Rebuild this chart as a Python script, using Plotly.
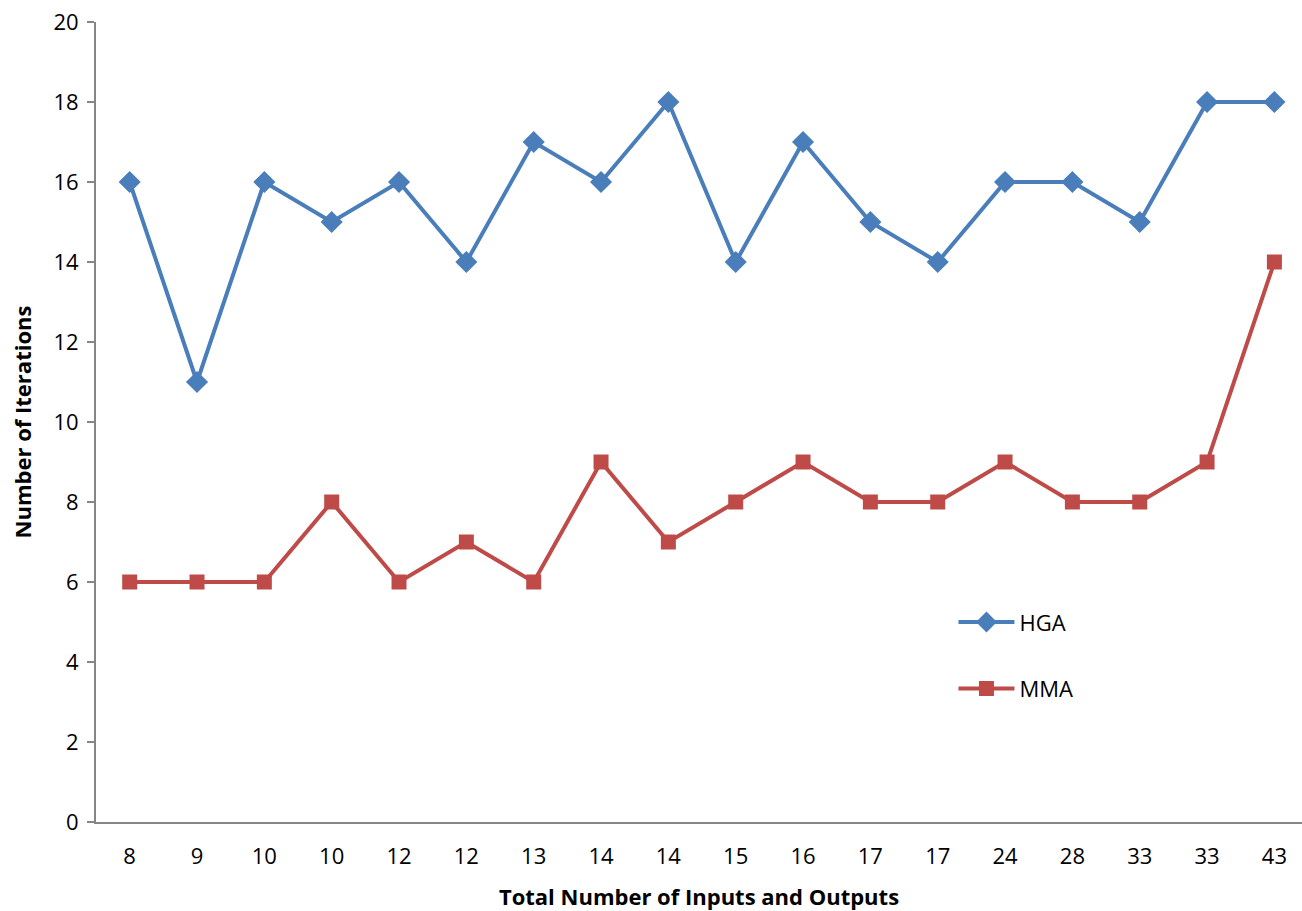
import plotly.graph_objects as go

# Total number of inputs and outputs per test case (category labels, duplicates allowed)
case_labels = ["8", "9", "10", "10", "12", "12", "13", "14", "14", "15",
               "16", "17", "17", "24", "28", "33", "33", "43"]
hga_iterations = [16, 11, 16, 15, 16, 14, 17, 16, 18, 14, 17, 15, 14, 16, 16, 15, 18, 18]
mma_iterations = [6, 6, 6, 8, 6, 7, 6, 9, 7, 8, 9, 8, 8, 9, 8, 8, 9, 14]
y_ticks = [0, 2, 4, 6, 8, 10, 12, 14, 16, 18, 20]

positions = list(range(len(case_labels)))

fig = go.Figure()
fig.add_trace(go.Scatter(
    x=positions, y=hga_iterations, name="HGA", mode="lines+markers",
    line=dict(color="#4A7EBB", width=4),
    marker=dict(symbol="diamond", size=17, color="#4A7EBB"),
    legendgroup="hga",
))
fig.add_trace(go.Scatter(
    x=positions, y=mma_iterations, name="MMA", mode="lines+markers",
    line=dict(color="#BE4B48", width=4),
    marker=dict(symbol="square", size=15, color="#BE4B48"),
    legendgroup="mma",
))

font_family = "Open Sans, Liberation Sans, sans-serif"
axis_font = dict(family=font_family, size=22, color="#000000")
title_font = dict(family=font_family, size=22, color="#000000")

fig.update_layout(
    width=1302, height=911,
    margin=dict(l=96, r=0, t=22, b=89),
    plot_bgcolor="white", paper_bgcolor="white",
    showlegend=True,
    legend=dict(
        x=0.711, y=0.276, xanchor="left", yanchor="top",
        font=dict(family=font_family, size=22, color="#000000"),
        itemwidth=56, tracegroupgap=35, bgcolor="rgba(0,0,0,0)",
    ),
    xaxis=dict(
        range=[-0.5, 17.41],
        tickmode="array", tickvals=positions, ticktext=case_labels,
        showgrid=False, zeroline=False,
        showline=True, linecolor="#868686", linewidth=2,
        ticks="", tickfont=axis_font, ticklabelstandoff=14,
        title=dict(text="<b>Total Number of Inputs and Outputs</b>", font=title_font, standoff=21),
    ),
    yaxis=dict(
        range=[0, 20],
        tickmode="array", tickvals=y_ticks,
        showgrid=False, zeroline=False,
        showline=True, linecolor="#868686", linewidth=2,
        ticks="outside", ticklen=7, tickcolor="#868686", tickwidth=2,
        tickfont=axis_font, ticklabelstandoff=4,
        title=dict(text="<b>Number of Iterations</b>", font=title_font, standoff=16),
    ),
)

fig.write_html("out.html")
